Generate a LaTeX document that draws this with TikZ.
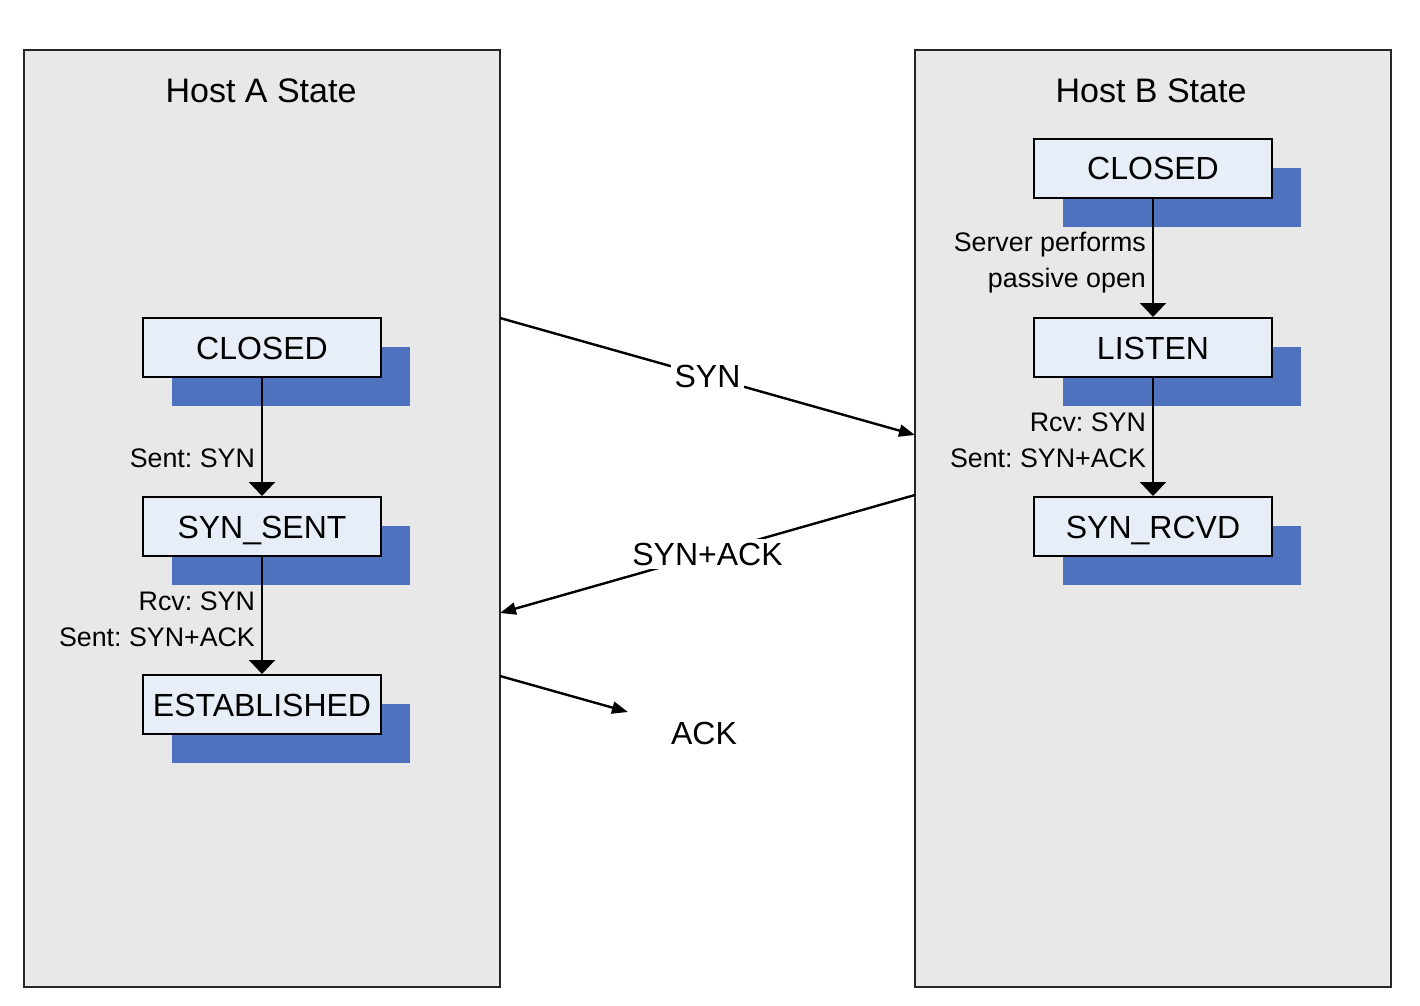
\documentclass[tikz,border=0pt]{standalone}
\usepackage{fontspec}
\setmainfont{Liberation Sans}
\usetikzlibrary{arrows.meta,shapes,positioning,shadows}
\definecolor{panelgray}{HTML}{E8E8E8}
\definecolor{boxfill}{HTML}{E8EEF8}
\definecolor{shadowblue}{HTML}{4E72BE}
\frenchspacing

\tikzset{
  panel/.style={draw=black!85, line width=1pt, fill=panelgray, minimum width=238pt, minimum height=468.5pt, inner sep=0pt},
  title/.style={font=\fontsize{17}{20}\selectfont},
  state/.style={draw, line width=1pt, fill=boxfill, minimum width=119pt, minimum height=29.5pt, inner sep=0pt,
    text height=11.5pt, text depth=0pt, font=\fontsize{16}{19}\selectfont,
    drop shadow={shadow xshift=14.5pt, shadow yshift=-14.5pt, fill=shadowblue, opacity=1}},
  lbl/.style={font=\fontsize{13.4}{18}\selectfont, align=right, inner sep=3pt},
  flow/.style={line width=1.1pt, -{Triangle[width=13pt,length=7pt]}},
  msg/.style={line width=1.2pt, -{Triangle[width=6pt,length=8pt]}},
  msglbl/.style={font=\fontsize{16}{19}\selectfont, fill=white, inner sep=2pt}
}

\begin{document}
\begin{tikzpicture}[x=0.5pt, y=-0.5pt]
    \useasboundingbox (0,0) rectangle (1420,1006);
    % the two hosts
    \node[panel] (hostA) at (262,518.5) {};
    \node[panel] (hostB) at (1153,518.5) {};
    \node[title] (titleA) at (261,91) {Host A State};
    \node[title] (titleB) at (1151,91) {Host B State};

    % state boxes
    \foreach \nm/\txt/\y in {aclosed/CLOSED/347.5, asent/SYN\_SENT/526.5, aest/ESTABLISHED/704.5} {
        \node[state] (\nm) at (262,\y) {\txt};
    }
    \foreach \nm/\txt/\y in {bclosed/CLOSED/168.5, blisten/LISTEN/347.5, brcvd/SYN\_RCVD/526.5} {
        \node[state] (\nm) at (1153,\y) {\txt};
    }

    % transitions
    \draw[flow] (aclosed) -- (asent) node[lbl, pos=.68, left] {Sent: SYN};
    \draw[flow] (asent) -- (aest) node[lbl, pos=.53, left] {Rcv: SYN\\Sent: SYN+ACK};
    \draw[flow] (bclosed) -- (blisten) node[lbl, pos=.54, left] {Server performs\\passive open};
    \draw[flow] (blisten) -- (brcvd) node[lbl, pos=.53, left] {Rcv: SYN\\Sent: SYN+ACK};

    % segments between the hosts
    \coordinate (synout) at (500,318);
    \coordinate (synin) at (915,435);
    \coordinate (saout) at (915,495);
    \coordinate (sain) at (500,613);
    \coordinate (ackout) at (500,676);
    \coordinate (ackend) at (628,712);
    \draw[msg] (synout) -- (synin) node[msglbl, midway] {SYN};
    \draw[msg] (saout) -- (sain) node[msglbl, midway] {SYN+ACK};
    \draw[msg] (ackout) -- (ackend);
    \node[msglbl] (ackLbl) at (704,733) {ACK};
\end{tikzpicture}
\end{document}
